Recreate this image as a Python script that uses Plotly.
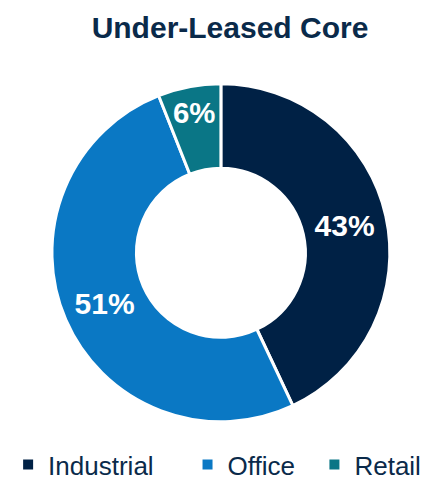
import plotly.graph_objects as go

labels = ["Industrial", "Office", "Retail"]
values = [43, 51, 6]
colors = ["#002145", "#0a78c4", "#0a7686"]

font_family = "Liberation Sans Narrow, Arial Narrow, Liberation Sans, Arial, sans-serif"

# pad legend entries so they spread across the width like the reference
legend_labels = [labels[0] + "\u00a0" * 4, labels[1] + "\u00a0" * 2, labels[2]]

fig = go.Figure(go.Pie(
    labels=legend_labels,
    values=values,
    sort=False,
    direction="clockwise",
    rotation=0,
    hole=0.5,
    marker=dict(colors=colors, line=dict(color="white", width=3)),
    texttemplate="%{value}%",
    hovertemplate="%{customdata}: %{value}%<extra></extra>",
    customdata=labels,
    textposition="inside",
    insidetextorientation="horizontal",
    textfont=dict(color="white", size=30, family=font_family, weight="bold"),
    domain=dict(x=[0.097, 0.862], y=[0.138, 0.842]),
))

fig.update_layout(
    width=444, height=480,
    margin=dict(l=0, r=0, t=0, b=0),
    paper_bgcolor="white",
    plot_bgcolor="white",
    title=dict(text="<b>Under-Leased Core</b>", x=0.5, xanchor="center", y=0.96, yanchor="middle",
               font=dict(size=30, color="#0a2a4a", family=font_family)),
    showlegend=True,
    legend=dict(orientation="h", x=0.471, xanchor="center", y=0.0, yanchor="bottom",
                font=dict(size=26, color="#0a2a4a", family=font_family),
                itemsizing="constant", traceorder="normal"),
)

fig.write_html("out.html")
